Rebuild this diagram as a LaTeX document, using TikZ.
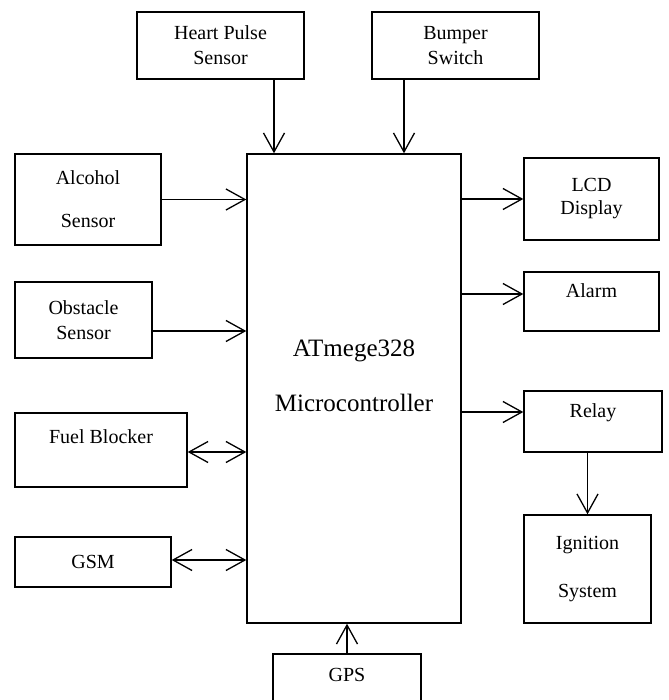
\documentclass[tikz,border=0pt]{standalone}
\usepackage{fontspec}
\setmainfont{Liberation Serif}
\usetikzlibrary{arrows.meta}
\begin{document}
\begin{tikzpicture}[x=1pt,y=-1pt,
  blk/.style={draw,line width=1.4pt,inner sep=0pt,align=center,font=\fontsize{20}{25}\selectfont},
  arr/.style={line width=1.3pt,-{Straight Barb[length=19pt,width=21pt]}},
  darr/.style={line width=1.3pt,{Straight Barb[length=19pt,width=21pt]}-{Straight Barb[length=19pt,width=21pt]}},
  mtxt/.style={align=center,font=\fontsize{25}{30}\selectfont,yshift=13pt}]
\useasboundingbox (0,0) rectangle (668,700);

% blocks
\node[blk,minimum width=214pt,minimum height=469pt,
  label={[mtxt]center:ATmege328\\[25pt]Microcontroller}] (mcu) at (354,388.5) {};
\node[blk,minimum width=167pt,minimum height=67pt] (heart) at (220.5,45.5) {Heart Pulse\\Sensor};
\node[blk,minimum width=167pt,minimum height=67pt] (bumper) at (455.5,45.5) {Bumper\\Switch};
\node[blk,minimum width=146pt,minimum height=91pt] (alcohol) at (88,199.5) {Alcohol\\[18pt]Sensor};
\node[blk,minimum width=137pt,minimum height=76pt] (obstacle) at (83.5,320) {Obstacle\\Sensor};
\node[blk,minimum width=172pt,minimum height=74pt,text depth=26pt] (fuel) at (101,450) {Fuel Blocker};
\node[blk,minimum width=156pt,minimum height=50pt] (gsm) at (93,562) {GSM};
\node[blk,minimum width=148pt,minimum height=60pt,text depth=18pt] (gps) at (347,684) {GPS};
\node[blk,minimum width=135pt,minimum height=82pt] (lcd) at (591.5,199) {LCD\\[-2pt]Display};
\node[blk,minimum width=135pt,minimum height=59pt,text depth=21pt] (alarm) at (591.5,301.5) {Alarm};
\node[blk,minimum width=138pt,minimum height=61pt,text depth=21pt] (relay) at (593,421.5) {Relay};
\node[blk,minimum width=127pt,minimum height=108pt] (ignition) at (587.5,569) {Ignition\\[23pt]System};

% inputs
\coordinate (hp) at ([xshift=53.5pt]heart.south);
\draw[arr] (hp) -- (hp |- mcu.north);
\coordinate (bs) at ([xshift=-51.5pt]bumper.south);
\draw[arr] (bs) -- (bs |- mcu.north);
\draw[arr] (alcohol.east) -- (alcohol.east -| mcu.west);
\coordinate (ob) at ([yshift=-11pt]obstacle.east);
\draw[arr] (ob) -- (ob -| mcu.west);
\coordinate (fb) at ([yshift=-2pt]fuel.east);
\draw[darr] (fb) -- (fb -| mcu.west);
\coordinate (gs) at ([yshift=2pt]gsm.east);
\draw[darr] (gs) -- (gs -| mcu.west);
\draw[arr] (gps.north) -- (gps.north |- mcu.south);

% outputs
\draw[arr] (lcd.west -| mcu.east) -- (lcd.west);
\coordinate (al) at ([yshift=7.5pt]alarm.west);
\draw[arr] (al -| mcu.east) -- (al);
\coordinate (rl) at ([yshift=9.5pt]relay.west);
\draw[arr] (rl -| mcu.east) -- (rl);
\draw[arr] (ignition.north |- relay.south) -- (ignition.north);
\end{tikzpicture}
\end{document}
